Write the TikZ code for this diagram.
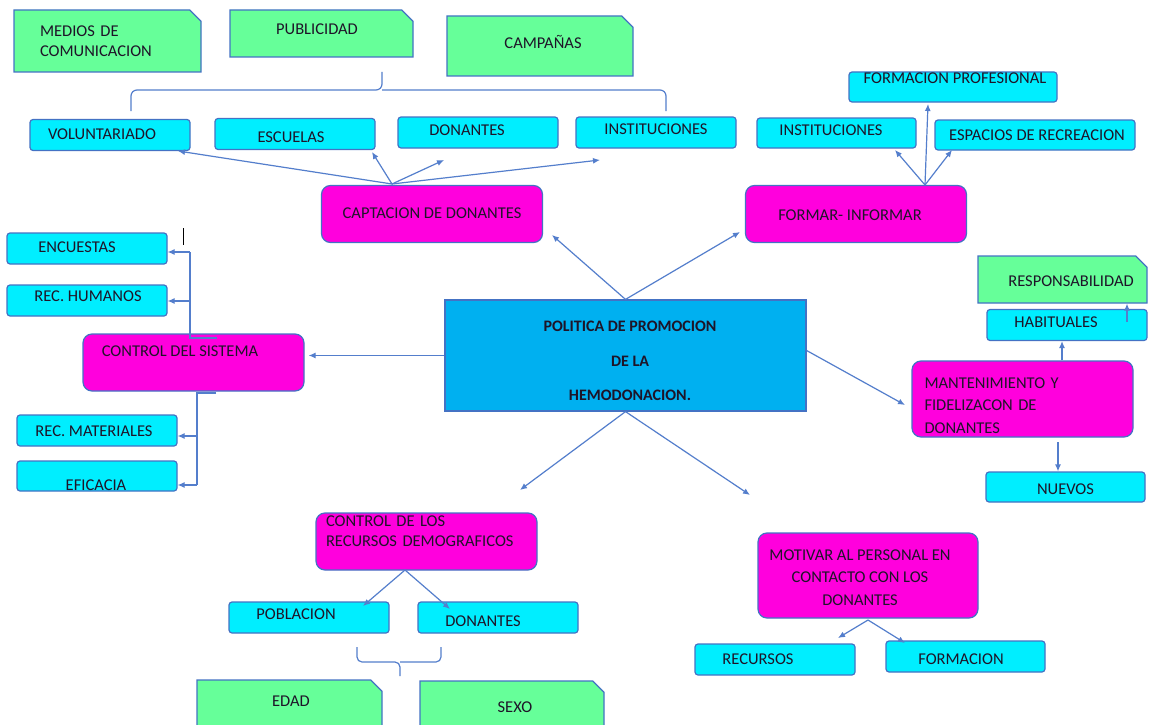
\documentclass[tikz,border=0pt]{standalone}
\usepackage{fontspec}
\setmainfont{Carlito}
\usetikzlibrary{shapes.misc,arrows.meta}
\definecolor{verde}{RGB}{102,255,153}
\definecolor{celeste}{RGB}{0,238,255}
\definecolor{fucsia}{RGB}{255,0,221}
\definecolor{azul}{RGB}{0,176,240}
\definecolor{borde}{RGB}{68,114,196}
\definecolor{flecha}{RGB}{84,126,204}
\definecolor{letra}{RGB}{30,20,40}
% mueve el texto: #1 hacia arriba, #2 el doble del corrimiento horizontal
\newcommand{\ajuste}[3]{\hspace*{#2}\raisebox{#1}[\height][\depth]{#3}}

\begin{document}
\begin{tikzpicture}[x=1pt,y=-1pt,-{Latex[length=7pt,width=6pt]},line width=1.2pt,
font=\fontsize{16.5}{20}\selectfont, text=letra,
hoja/.style ={draw=borde, fill=celeste, rounded corners=3pt,
  minimum width=160pt, minimum height=31pt},
tema/.style ={draw=borde, fill=fucsia, rounded corners=9pt,
  minimum width=221pt, minimum height=57pt},
nota/.style ={draw=borde, fill=verde, chamfered rectangle,
  chamfered rectangle corners=north east, chamfered rectangle xsep=8pt},
raiz/.style ={draw=borde, fill=azul, minimum width=361pt,
  minimum height=111pt, align=center,
  font=\bfseries\fontsize{16}{34.5}\selectfont},
enlace/.style ={draw=flecha}]
\useasboundingbox (0,0) rectangle (1157,725);
\fill[white,-] (0,0) rectangle (1157,725);

% notas verdes
\node[nota, minimum width=185pt, minimum height=62pt, text width=135pt,
  inner xsep=18pt, align=left] (medios) at (107.5,41) {MEDIOS DE\\COMUNICACION};
\node[nota, minimum width=183pt, minimum height=47pt] (publicidad) at (321.5,33.5) {\ajuste{4.5pt}{-9pt}{PUBLICIDAD}};
\node[nota, minimum width=186pt, minimum height=60pt] (campanas) at (540,46) {\ajuste{4pt}{6pt}{CAMPAÑAS}};
\node[nota, minimum width=169pt, minimum height=47pt] (resp) at (1062.5,279.5) {\ajuste{-1.5pt}{17pt}{RESPONSABILIDAD}};
\node[nota, minimum width=185pt, minimum height=50pt] (edad) at (289.5,705) {\ajuste{4pt}{3pt}{EDAD}};
\node[nota, minimum width=184pt, minimum height=48pt] (sexo) at (512,705) {\ajuste{-2pt}{6pt}{SEXO}};

% llave de arriba
\draw[enlace,-,rounded corners=6pt] (131,111) |- (382,90) -- (382,72);
\draw[enlace,-,rounded corners=6pt] (382,90) -| (666,111);

% captacion
\node[hoja] (voluntariado) at (110,135) {\ajuste{1pt}{-16pt}{VOLUNTARIADO}};
\node[hoja] (escuelas) at (295,134) {\ajuste{-3pt}{-8pt}{ESCUELAS}};
\node[hoja] (donantesA) at (478,132.5) {\ajuste{2.5pt}{-22pt}{DONANTES}};
\node[hoja] (institucionesA) at (656,132.5) {\ajuste{3pt}{0pt}{INSTITUCIONES}};
\node[tema] (captacion) at (432,214) {\ajuste{1pt}{0pt}{CAPTACION DE DONANTES}};

\coordinate (capO) at (392,184);
\draw[enlace] (capO) -- (178,151);
\draw[enlace] (capO) -- (372,152);
\draw[enlace] (capO) -- (444,160);
\draw[enlace] (capO) -- (600,160);

% formar
\node[hoja, minimum width=208pt, minimum height=30pt] (formprof) at (953,87) {\ajuste{9pt}{4pt}{FORMACION PROFESIONAL}};
\node[hoja, minimum width=159pt, minimum height=30pt] (institucionesB) at (836.5,133) {\ajuste{3pt}{-11pt}{INSTITUCIONES}};
\node[hoja, minimum width=200pt, minimum height=30pt] (espacios) at (1035,135) {\ajuste{0pt}{4pt}{ESPACIOS DE RECREACION}};
\node[tema] (formar) at (856,214) {\ajuste{-1pt}{-12pt}{FORMAR- INFORMAR}};

\coordinate (forO) at (925,185);
\draw[enlace] (forO) -- (928,104);
\draw[enlace] (forO) -- (895,150);
\draw[enlace] (forO) -- (952,150);

% control del sistema
\node[tema] (sistema) at (193.5,362.5) {\ajuste{11.5pt}{-27pt}{CONTROL DEL SISTEMA}};
\node[hoja] (encuestas) at (87,248.5) {\ajuste{1.5pt}{-20pt}{ENCUESTAS}};
\node[hoja] (rechum) at (87,300.5) {\ajuste{4pt}{2pt}{REC. HUMANOS}};
\node[hoja] (recmat) at (97,430.5) {\ajuste{-1pt}{-6pt}{REC. MATERIALES}};
\node[hoja, minimum height=30pt] (eficacia) at (97,476) {\ajuste{-9pt}{-2pt}{EFICACIA}};

\draw[enlace,-] (217,338) -- (190,338) -- (190,252);
\draw[enlace] (190,252) -- (encuestas.east |- 190,252);
\draw[enlace] (190,301) -- (rechum.east |- 190,301);
\draw[enlace,-] (216,393) -- (197,393) -- (197,485);
\draw[enlace] (197,436) -- (recmat.east |- 197,436);
\draw[enlace] (197,485) -- (eficacia.east |- 197,485);
\draw[-,thin,black] (183,228) -- (183,245);

% centro
\node[raiz] (politica) at (625.5,355.5)
  {\ajuste{-5.5pt}{9pt}{POLITICA DE PROMOCION}\\\ajuste{-5.5pt}{9pt}{DE LA}\\\ajuste{-5.5pt}{9pt}{HEMODONACION.}};

\draw[enlace] (politica.north) -- (552,235);
\draw[enlace] (politica.north) -- (740,232);
\draw[enlace] (politica.west) -- ([xshift=4pt]sistema.east |- politica.west);
\draw[enlace] ([yshift=5pt]politica.east) -- (905,405);
\draw[enlace] (politica.south) -- (520,490);
\draw[enlace] (politica.south) -- (750,495);

% mantenimiento
\node[hoja] (habituales) at (1067,325) {\ajuste{3pt}{-22pt}{HABITUALES}};
\node[tema, minimum height=76pt, text width=196pt, inner xsep=12.5pt,
  align=left, font=\fontsize{16.5}{22.5}\selectfont] (mant) at (1022.5,399)
  {\ajuste{-6.5pt}{0pt}{MANTENIMIENTO Y}\\\ajuste{-6.5pt}{0pt}{FIDELIZACON DE}\\\ajuste{-6.5pt}{0pt}{DONANTES}};
\node[hoja, minimum width=159pt, minimum height=30pt] (nuevos) at (1065.5,487) {\ajuste{-2pt}{0pt}{NUEVOS}};

\draw[enlace] (mant.north -| 1062,0) -- (habituales.south -| 1062,0);
\draw[enlace] (1127,322) -- (resp.south -| 1127,0);
\draw[enlace] (1058,442) -- (nuevos.north -| 1058,0);

% recursos demograficos
\node[tema, text width=201pt, inner xsep=10pt, align=left] (demo) at (426.5,541.5)
  {\ajuste{10.5pt}{0pt}{CONTROL DE LOS}\\\ajuste{10.5pt}{0pt}{RECURSOS DEMOGRAFICOS}};
\node[hoja] (poblacion) at (309,617.5) {\ajuste{3.5pt}{-26pt}{POBLACION}};
\node[hoja] (donantesB) at (498,617.5) {\ajuste{-3.5pt}{-30pt}{DONANTES}};

\coordinate (demO) at (405,570);
\draw[enlace] (demO) -- (363,606);
\draw[enlace] (demO) -- (450,609);

% llave de abajo
\draw[enlace,-,rounded corners=5pt] (357,647) |- (400,662) -- (400,676);
\draw[enlace,-,rounded corners=5pt] (400,662) -| (441,647);

% motivar
\node[tema, minimum width=220pt, minimum height=85pt, align=center,
  font=\fontsize{16.5}{22.5}\selectfont] (motivar) at (868,575.5)
  {\ajuste{-2pt}{-16pt}{MOTIVAR AL PERSONAL EN}\\\ajuste{-2pt}{-16pt}{CONTACTO CON LOS}\\\ajuste{-2pt}{-16pt}{DONANTES}};
\node[hoja] (recursos) at (775,659.5) {\ajuste{0pt}{-34pt}{RECURSOS}};
\node[hoja, minimum width=159pt] (formacion) at (965.5,656.5) {\ajuste{-3pt}{-9pt}{FORMACION}};

\coordinate (motO) at (868,620);
\draw[enlace] (motO) -- (838,638);
\draw[enlace] (motO) -- (905,643);
\end{tikzpicture}
\end{document}
